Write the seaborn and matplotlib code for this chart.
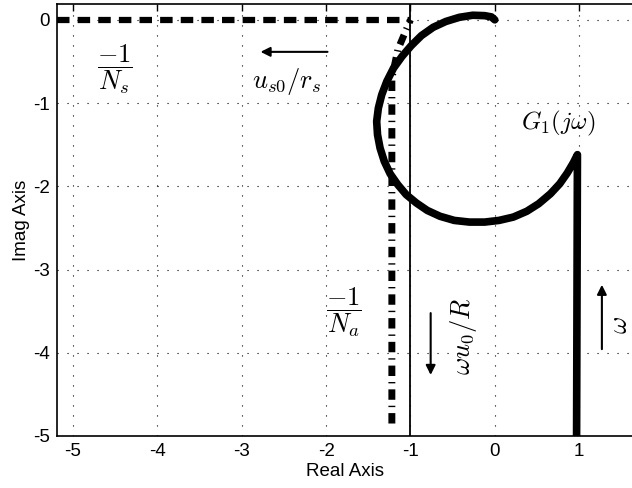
import matplotlib
matplotlib.use('Agg')
import matplotlib.pyplot as plt
import seaborn as sns

# G1(jw) locus, omega increasing along the list
G1_re = [0.97, 0.98, 0.93, 0.86, 0.77, 0.66, 0.52, 0.38, 0.22, 0.05, -0.12, -0.30,
         -0.48, -0.65, -0.80, -0.93, -1.05, -1.15, -1.24, -1.31, -1.36, -1.39, -1.40,
         -1.38, -1.34, -1.28, -1.20, -1.10, -0.99, -0.87, -0.73, -0.58, -0.42, -0.26,
         -0.12, -0.04, 0.0]
G1_im = [-5.0, -1.62, -1.72, -1.84, -1.97, -2.09, -2.21, -2.30, -2.37, -2.41, -2.43, -2.43,
         -2.41, -2.36, -2.29, -2.20, -2.10, -1.98, -1.85, -1.70, -1.54, -1.38, -1.22,
         -1.06, -0.90, -0.74, -0.58, -0.44, -0.31, -0.19, -0.09, -0.02, 0.03, 0.055,
         0.05, 0.035, 0.0]
# -1/N_s locus
Ns_re = [-5.19, -1.0]
Ns_im = [0.0, 0.0]
# -1/N_a locus
Na_re = [-1.22, -1.22, -1.15, -1.0]
Na_im = [-4.85, -0.70, -0.36, 0.0]
# critical line Re = -1
crit_re = -1.0

xticks = [-5, -4, -3, -2, -1, 0, 1]
yticks = [0, -1, -2, -3, -4, -5]
xlim = (-5.19, 1.627)
ylim = (-5.0, 0.19)

sns.set_theme(style='white')
plt.rcParams['font.family'] = ['Liberation Sans', 'DejaVu Sans']
plt.rcParams['mathtext.fontset'] = 'cm'
plt.rcParams['axes.unicode_minus'] = False

fig = plt.figure(figsize=(6.32, 4.88), dpi=100)
ax = fig.add_axes([57 / 632, 52 / 488, 575 / 632, 432 / 488])

ax.grid(True, color='black', linestyle=(0, (1, 8)), linewidth=0.8)
ax.set_axisbelow(True)

ax.axvline(crit_re, color='black', lw=1.3, zorder=2)

sns.lineplot(x=Ns_re, y=Ns_im, sort=False, estimator=None, ax=ax, color='black')
l_ns = ax.lines[-1]
l_ns.set_linewidth(4.5)
l_ns.set_linestyle((0, (2.0, 1.3)))
l_ns.set_dash_capstyle('butt')

sns.lineplot(x=Na_re, y=Na_im, sort=False, estimator=None, ax=ax, color='black')
l_na = ax.lines[-1]
l_na.set_linewidth(5)
l_na.set_linestyle((0, (1.5, 0.86, 0.2, 0.86)))
l_na.set_dash_capstyle('butt')

sns.lineplot(x=G1_re, y=G1_im, sort=False, estimator=None, ax=ax, color='black')
l_g = ax.lines[-1]
l_g.set_linewidth(5.5)
l_g.set_solid_capstyle('round')
l_g.set_solid_joinstyle('round')

ax.set_xlim(*xlim)
ax.set_ylim(*ylim)
ax.set_xticks(xticks)
ax.set_yticks(yticks)
ax.tick_params(direction='in', top=True, right=False, length=5, width=1,
               labelsize=13.5, colors='black', pad=5)
for s in ['left', 'bottom', 'top']:
    ax.spines[s].set_color('black')
    ax.spines[s].set_linewidth(1.2)
ax.spines['right'].set_visible(False)

ax.set_xlabel('Real Axis', fontsize=13.5, color='black', labelpad=2)
ax.set_ylabel('Imag Axis', fontsize=13.5, color='black', labelpad=2)

mt = dict(color='black', ha='center', va='center')
ax.text(-4.5, -0.59, r'$\dfrac{-1}{N_s}$', fontsize=19, **mt)
ax.annotate('', xy=(-2.81, -0.385), xytext=(-1.95, -0.385),
            arrowprops=dict(arrowstyle='-|>', color='black', lw=1.5, mutation_scale=14))
ax.text(-2.46, -0.74, r'$u_{s0}/r_s$', fontsize=19, **mt)
ax.text(0.76, -1.24, r'$G_1(j\omega)$', fontsize=18, **mt)
ax.text(-1.79, -3.51, r'$\dfrac{-1}{N_a}$', fontsize=19, **mt)
ax.annotate('', xy=(-0.76, -4.30), xytext=(-0.76, -3.49),
            arrowprops=dict(arrowstyle='-|>', color='black', lw=1.5, mutation_scale=14))
ax.text(-0.37, -3.80, r'$\omega u_0/R$', fontsize=19, rotation=90, **mt)
ax.annotate('', xy=(1.27, -3.15), xytext=(1.27, -3.99),
            arrowprops=dict(arrowstyle='-|>', color='black', lw=1.5, mutation_scale=14))
ax.text(1.48, -3.67, r'$\omega$', fontsize=19, rotation=90, **mt)

fig.savefig('out.png', dpi=100)
